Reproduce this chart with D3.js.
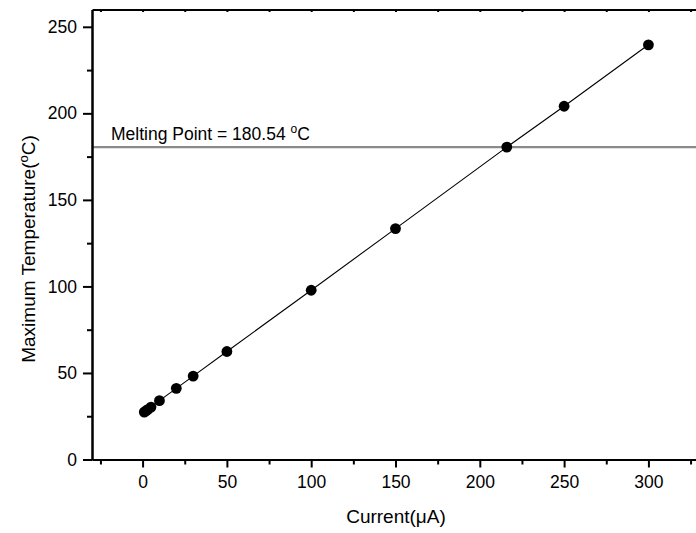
<!DOCTYPE html>
<html>
<head>
<meta charset="utf-8">
<script src="https://cdn.jsdelivr.net/npm/d3@7"></script>
<style>
    body { margin: 0; background: #fff; }
    svg { display: block; font-family: "Liberation Sans", Arial, sans-serif; }
    .axis path, .axis line { stroke: #000; stroke-width: 2; }
    .axis text { font-size: 17.5px; fill: #000; font-family: "Liberation Sans", Arial, sans-serif; }
</style>
</head>
<body>
<svg id="chart" width="696" height="533"></svg>
<script>
// current (uA) and peak temperature (C)
const currents = [1, 2, 3, 5, 10, 20, 30, 50, 100, 150, 216, 250, 300];
const temps = [27.4, 28.1, 28.8, 30.3, 34.0, 41.1, 48.2, 62.4, 97.8, 133.4, 180.5, 204.1, 239.6];
const meltingPoint = 180.54;
const xMajorTicks = [0, 50, 100, 150, 200, 250, 300];
const xMinorTicks = [-25, 25, 75, 125, 175, 225, 275, 325];
const yMajorTicks = [0, 50, 100, 150, 200, 250];
const yMinorTicks = [25, 75, 125, 175, 225];

const svg = d3.select("#chart");
const plot = { left: 92, right: 699, top: 9.5, bottom: 459.5 };

const x = d3.scaleLinear().domain([-30, 330]).range([plot.left, plot.right]);
const y = d3.scaleLinear().domain([0, 260]).range([plot.bottom, plot.top]);

// melting point reference line
svg.append("line")
    .attr("x1", x(-30)).attr("x2", x(330))
    .attr("y1", y(meltingPoint)).attr("y2", y(meltingPoint))
    .attr("stroke", "#8a8a8a")
    .attr("stroke-width", 2.2);

const melt = svg.append("text")
    .attr("x", 111)
    .attr("y", y(meltingPoint) - 7)
    .attr("font-size", 17.5)
    .text("Melting Point = 180.54 ");
melt.append("tspan").attr("dy", -7).attr("font-size", 12).text("o");
melt.append("tspan").attr("dy", 7).text("C");

// axes
svg.append("g").attr("class", "axis")
    .attr("transform", `translate(0,${plot.bottom})`)
    .call(d3.axisBottom(x).tickValues(xMajorTicks).tickSize(8).tickPadding(8).tickSizeOuter(0));
svg.append("g").attr("class", "axis")
    .attr("transform", `translate(0,${plot.bottom})`)
    .call(d3.axisBottom(x).tickValues(xMinorTicks).tickSize(5).tickFormat("").tickSizeOuter(0));

svg.append("g").attr("class", "axis")
    .attr("transform", `translate(${plot.left},0)`)
    .call(d3.axisLeft(y).tickValues(yMajorTicks).tickSize(9).tickPadding(6).tickSizeOuter(0));
svg.append("g").attr("class", "axis")
    .attr("transform", `translate(${plot.left},0)`)
    .call(d3.axisLeft(y).tickValues(yMinorTicks).tickSize(5).tickFormat("").tickSizeOuter(0));

// top spine with small inward ticks
svg.append("g").attr("class", "axis")
    .attr("transform", `translate(0,${plot.top})`)
    .call(d3.axisTop(x).tickValues(xMajorTicks.concat(xMinorTicks)).tickSize(-2.5).tickFormat("").tickSizeOuter(0));

// data line + markers
const pts = currents.map((c, i) => [c, temps[i]]);
svg.append("path")
    .datum(pts)
    .attr("fill", "none")
    .attr("stroke", "#000")
    .attr("stroke-width", 1.1)
    .attr("d", d3.line().x(d => x(d[0])).y(d => y(d[1])));

svg.selectAll(".dot")
    .data(pts)
    .enter()
    .append("circle")
    .attr("class", "dot")
    .attr("cx", d => x(d[0]))
    .attr("cy", d => y(d[1]))
    .attr("r", 5.4)
    .attr("fill", "#000");

// axis titles
svg.append("text")
    .attr("x", 396)
    .attr("y", 523)
    .attr("text-anchor", "middle")
    .attr("font-size", 19)
    .text("Current(μA)");

const yTitle = svg.append("text")
    .attr("transform", "translate(35,249) rotate(-90)")
    .attr("text-anchor", "middle")
    .attr("font-size", 19)
    .text("Maximum Temperature(");
yTitle.append("tspan").attr("dy", -7).attr("font-size", 13).text("o");
yTitle.append("tspan").attr("dy", 7).text("C)");
</script>
</body>
</html>
